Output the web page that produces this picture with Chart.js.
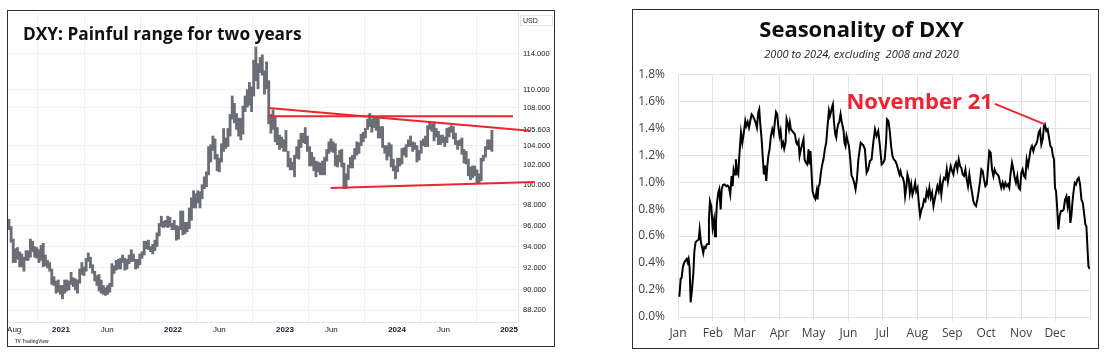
<!DOCTYPE html>
<html><head><meta charset="utf-8">
<script src="https://cdn.jsdelivr.net/npm/chart.js@4.4.1/dist/chart.umd.min.js"></script>
<style>
html,body{margin:0;padding:0;background:#fff;width:1106px;height:355px;overflow:hidden}
.box{position:absolute}
.panel{position:absolute;box-sizing:border-box;border:1.5px solid #2e2e2e;pointer-events:none}
canvas{display:block}
</style></head><body>
<div class="box" style="left:8px;top:11px;width:545px;height:334px"><canvas id="left"></canvas></div>
<div class="box" style="left:633px;top:10px;width:464px;height:337px"><canvas id="right"></canvas></div>
<div class="panel" style="left:7px;top:10px;width:548px;height:337px"></div>
<div class="panel" style="left:632px;top:9px;width:467px;height:340px"></div>
<script>
// ---------------- LEFT: DXY weekly ranges (low, high), weeks ending on Fridays ----------------
const week2020Start = '2020-07-17';
const dxyWeekly2020 = [[95.6,96.6],[94.4,95.9],[92.5,94.7],[92.5,93.8],[92.8,93.9],[92.1,93.5],[92.1,93.3],[91.7,93.0],[92.7,93.6],[92.7,93.6],[93.0,94.7],[93.5,94.5],[93.0,94.0],[92.9,93.9],[92.5,93.7],[92.7,94.1],[92.1,94.3],[92.2,93.2],[92.0,92.7],[91.7,92.5],[90.5,91.9],[90.4,91.2],[89.7,90.8],[89.8,90.9]];
const week2021Start = '2021-01-01';
const dxyWeekly2021 = [[89.6,90.4],[89.2,90.4],[89.7,90.9],[89.9,90.9],[90.0,90.8],
 [90.5,91.6],[90.3,91.1],[90.0,91.0],[89.7,90.9],
 [90.6,91.9],[91.4,92.5],[91.3,92.1],[91.7,92.9],
 [92.6,93.4],[92.0,93.0],[91.5,92.3],[90.8,91.7],[90.4,91.3],
 [89.9,91.4],[89.7,90.9],[89.6,90.4],[89.5,90.2],
 [89.6,90.4],[89.8,90.6],[90.3,92.4],[91.5,92.2],
 [91.8,92.7],[91.9,92.8],[91.9,92.9],[92.5,93.2],[91.8,92.9],
 [91.9,92.8],[92.4,93.2],[92.6,93.7],[92.6,93.3],
 [91.9,92.8],[92.0,92.8],[92.3,93.3],[92.9,93.5],
 [93.2,94.5],[93.8,94.5],[93.7,94.6],[93.5,94.0],[93.3,94.2],
 [93.6,94.6],[94.0,95.3],[95.0,96.2],[95.9,96.9],
 [95.8,96.4],[95.9,96.5],[95.8,96.9],[95.9,96.8],[95.6,96.2]];
const week2022Start = '2022-01-07';
const dxyWeekly2022 = [[95.6,96.5],[94.6,96.0],[94.7,95.9],[95.6,97.4],
 [95.1,97.4],[95.2,96.3],[95.4,96.3],[95.7,97.7],
 [96.5,98.7],[97.7,99.4],[97.7,99.1],[98.2,99.4],
 [97.7,99.3],[98.6,100.0],[99.6,100.8],[99.8,101.3],[101.0,103.9],
 [102.3,104.1],[103.5,105.0],[102.6,104.7],[101.4,103.1],
 [101.3,102.7],[102.3,104.2],[103.4,105.8],[103.7,104.8],
 [103.9,105.8],[105.0,107.3],[106.8,109.3],[106.4,108.5],[105.7,107.4],
 [105.0,106.9],[104.6,106.9],[105.2,108.2],[107.6,109.3],
 [108.1,110.0],[108.3,110.8],[107.6,110.3],[109.3,113.3],[111.0,114.8],
 [110.1,112.9],[111.9,113.6],[111.6,113.9],[109.5,112.1],
 [110.1,113.1],[106.3,111.0],[105.3,107.3],[105.7,107.8],
 [104.4,107.1],[104.1,105.9],[103.6,105.1],[103.8,104.9],[103.4,104.6]];
const week2023Start = '2023-01-06';
const dxyWeekly2023 = [[103.4,105.6],[101.8,103.4],[101.5,102.7],[101.5,102.3],
 [100.8,103.0],[102.7,103.9],[102.6,104.6],[103.8,105.3],
 [104.3,105.3],[104.2,105.9],[103.4,105.0],[101.9,103.9],[101.9,103.3],
 [101.4,102.8],[100.8,102.4],[101.3,102.3],[101.0,102.2],
 [101.0,102.4],[101.0,102.8],[102.4,103.6],[103.2,104.4],
 [103.4,104.7],[103.3,104.4],[101.9,104.2],[101.8,103.0],[102.3,103.5],
 [101.8,103.6],[99.6,102.2],[99.6,101.1],[100.5,102.0],
 [101.7,102.8],[101.7,103.0],[102.6,103.7],[103.0,104.4],
 [103.2,104.3],[104.0,105.2],[104.4,105.4],[104.8,105.8],[105.7,106.8],
 [106.0,107.4],[105.4,106.8],[105.9,106.9],[105.6,106.9],
 [104.8,107.1],[104.8,106.0],[103.8,106.0],[103.2,104.0],
 [102.5,104.0],[102.9,104.3],[101.8,104.1],[101.4,102.6],[100.6,101.9]];
const week2024Start = '2024-01-05';
const dxyWeekly2024 = [[101.3,102.7],[101.9,102.7],[102.1,103.7],[103.0,103.8],
 [102.8,104.1],[103.9,104.6],[103.9,105.0],[103.4,104.4],
 [103.6,104.3],[102.3,104.0],[102.5,103.5],[103.2,104.5],[104.0,104.7],
 [103.9,105.0],[103.9,106.1],[105.7,106.5],[105.5,106.3],
 [104.5,106.5],[104.9,105.8],[104.1,105.5],[104.1,105.1],[104.3,105.1],
 [103.9,104.9],[104.3,105.8],[104.9,105.9],[105.4,106.1],
 [104.7,106.0],[104.1,105.3],[103.6,104.5],[104.0,104.6],
 [103.1,104.8],[102.2,103.6],[102.1,103.4],[100.9,102.6],[100.5,101.8],
 [100.7,101.9],[100.9,101.9],[100.2,101.5],[100.2,101.1],
 [100.4,102.7],[102.4,103.0],[102.8,103.9],[103.6,104.6],
 [103.6,104.6],[103.4,105.6]];

// trend lines drawn on the chart: [date, price]
const upperTrend = [['2022-11-09',108.0],['2025-03-10',105.55]];
const flatTrend  = [['2022-11-06',107.1],['2025-01-14',107.1]];
const lowerTrend = [['2023-05-30',99.68],['2025-03-26',100.27]];

// axis ticks
const leftTickDates  = ['2020-08-01','2021-01-01','2021-06-01','2022-01-01','2022-06-01','2023-01-01','2023-06-01','2024-01-01','2024-06-01','2025-01-01'];
const leftTickLabels = ['Aug','2021','Jun','2022','Jun','2023','Jun','2024','Jun','2025'];
const leftPriceTicks = [88.2,90,92,94,96,98,100,102,104,105.603,108,110,114];
const lastPrice = 105.603;

// ---------------- RIGHT: seasonality (day of year, cumulative % change) ----------------
const seasonDay = [1.2,2.4,3.2,4.4,5.9,7.7,8.6,9.4,10.3,11.2,12.4,13.6,14.5,15.6,17.1,18.3,19.2,20.4,21.5,22.4,23.3,24.5,25.4,26.6,27.4,28.3,29.5,30.7,31.9,32.8,33.6,34.5,35.7,36.6,37.8,38.7,39.8,41.3,42.8,44,45.1,46.3,47.5,48.4,49.3,50.5,51.3,52.2,53.4,54.3,55.8,57,58.1,59.6,60.5,61.7,62.9,64,65.2,66.4,67.6,68.8,69.9,71.1,72,72.9,74.1,75.2,76.1,77,78.2,79.1,80,81.1,82.3,83.5,84.7,85.9,86.8,87.9,88.8,90,90.9,92.1,93.2,94.1,95.3,96.2,97.4,98.3,99.1,100,101.2,102.4,103.6,104.8,105.6,106.8,107.7,108.9,110.1,111.2,112.1,113.3,114.5,115.7,116.6,117.4,118.3,119.2,120.4,121.6,122.8,123.6,124.5,125.4,126.6,127.8,128.9,130.1,131.3,132.5,133.7,134.6,135.4,136.3,137.2,138.1,139.3,140.2,141,141.9,142.8,144,144.9,145.8,146.7,147.5,148.4,149.3,150.5,151.4,152.6,153.7,154.9,156.1,157.3,158.5,159.8,161.8,164.2,165.6,167.1,168.5,170,171.5,173,174.5,175.9,177.4,178.9,180.4,181.9,183.1,184.3,185.2,186.4,187.6,188.8,190,191.2,192.6,193.8,195,196.2,197.1,198,199.2,200.3,201.2,202.4,203.3,204.5,205.4,206.6,207.7,208.9,210.1,211,212.2,213.3,214.5,215.7,216.9,218,219.2,220.4,221.6,222.7,223.9,225.1,226.3,227.4,228.6,229.8,231,232.2,233.3,234.5,235.7,236.9,238.1,239.2,240.4,241.6,242.8,244,245.1,246.3,247.5,248.7,249.9,251,252.2,253.4,254.6,255.8,256.9,258.1,259.3,260.5,261.7,262.8,264,265.2,266.4,267.6,268.7,269.9,271.1,272.3,273.5,274.6,275.8,277,278.2,279.4,280.5,281.7,282.9,284.1,285.3,286.4,287.6,288.8,290,291.2,292.4,293.5,294.7,295.9,297.1,298.3,299.4,300.6,301.8,303,304.2,305.3,306.5,307.7,308.9,310.1,311.3,312.4,313.6,314.8,316,317.2,318.3,319.5,320.7,321.9,323.1,324.2,325,326.3,327.5,328.7,329.9,331,332.2,333.1,334,334.9,335.8,337,338.1,339.3,340.5,341.7,342.9,344.1,345.2,346.4,347.6,348.5,349.4,350.3,351.5,352.7,353.8,355,356.2,357.4,358.6,359.7,360.9,361.8,362.7,363.6,364.8];
const seasonPct = [0.15,0.285,0.29,0.376,0.41,0.43,0.405,0.43,0.364,0.109,0.203,0.327,0.488,0.555,0.567,0.574,0.649,0.55,0.512,0.475,0.52,0.512,0.537,0.542,0.723,0.859,0.822,0.661,0.723,0.599,0.698,0.847,0.921,0.946,0.797,0.946,0.978,0.983,0.97,0.975,0.963,0.909,1.045,0.97,1.094,1.057,1.169,1.082,1.057,1.193,1.367,1.292,1.354,1.453,1.416,1.446,1.404,1.453,1.503,1.49,1.466,1.441,1.404,1.515,1.54,1.429,1.317,1.169,1.057,1.124,1.008,1.119,1.193,1.243,1.342,1.391,1.354,1.453,1.52,1.503,1.416,1.342,1.379,1.268,1.292,1.248,1.292,1.466,1.429,1.391,1.441,1.391,1.379,1.367,1.354,1.292,1.28,1.305,1.193,1.243,1.28,1.317,1.169,1.144,1.131,1.243,1.131,1.23,1.07,0.933,0.896,0.876,0.933,0.871,0.97,0.983,1.07,1.131,1.169,1.243,1.292,1.416,1.528,1.49,1.515,1.552,1.577,1.453,1.354,1.33,1.391,1.429,1.441,1.503,1.453,1.416,1.379,1.292,1.268,1.342,1.30,1.27,1.17,1.05,1.03,0.995,0.946,1.02,1.168,1.292,1.272,1.243,1.069,1.094,1.156,1.168,1.292,1.391,1.342,1.379,1.267,1.131,1.144,1.168,1.292,1.465,1.453,1.379,1.267,1.193,1.168,1.156,1.131,1.094,1.057,1.082,1.045,1.032,0.995,0.896,0.97,1.057,1.02,0.921,0.983,0.908,0.946,0.995,0.933,0.958,0.847,0.752,0.797,0.822,0.871,0.859,0.933,0.896,0.958,0.884,0.921,0.822,0.871,0.921,0.97,0.933,1.007,0.908,0.995,1.032,1.02,1.094,1.007,1.069,1.119,1.082,1.057,1.119,1.144,1.094,1.168,1.119,1.106,1.057,1.045,1.094,1.02,0.97,1.057,0.983,0.921,0.859,0.834,0.822,0.871,0.933,1.007,1.094,1.082,1.02,0.97,0.983,1.094,1.23,1.218,1.094,1.045,1.094,1.069,1.057,1.045,0.995,0.958,0.995,0.958,0.995,0.97,0.983,0.958,1.069,1.144,1.094,1.032,0.995,1.045,0.958,0.946,1.069,1.094,1.045,1.032,1.168,1.119,1.181,1.243,1.267,1.23,1.267,1.28,1.304,1.366,1.386,1.28,1.317,1.416,1.428,1.379,1.391,1.329,1.267,1.255,1.193,1.168,0.958,0.933,0.822,0.649,0.748,0.785,0.785,0.797,0.871,0.896,0.822,0.896,0.698,0.748,0.847,0.921,0.995,0.983,1.02,1.032,0.983,0.871,0.847,0.772,0.686,0.673,0.525,0.376,0.356];
const monthStartDays = [0,31,59,90,120,151,181,212,243,273,304,334,365];
const monthLabels = ['Jan','Feb','Mar','Apr','May','Jun','Jul','Aug','Sep','Oct','Nov','Dec',''];
const seasonYTicks = [0,0.2,0.4,0.6,0.8,1.0,1.2,1.4,1.6,1.8];
const novAnnotation = {text:'November 21', day:325, value:1.428};

// ---------------- helpers ----------------
const DAY = 86400000;
function decYearMs(ms){ const d=new Date(ms); const y=d.getUTCFullYear(); const a=Date.UTC(y,0,1), b=Date.UTC(y+1,0,1); return y+(ms-a)/(b-a); }
function decYear(s){ return decYearMs(Date.parse(s+'T00:00:00Z')); }

const weeklyBlocks = [[week2020Start,dxyWeekly2020],[week2021Start,dxyWeekly2021],[week2022Start,dxyWeekly2022],[week2023Start,dxyWeekly2023],[week2024Start,dxyWeekly2024]];
const candleData = [];
weeklyBlocks.forEach(([start, ranges]) => {
  const s = Date.parse(start+'T00:00:00Z');
  ranges.forEach((r,i) => candleData.push({x: decYearMs(s + (7*i-2)*DAY), y: [r[0], r[1]]}));
});
const toPts = arr => arr.map(([d,p]) => ({x: decYear(d), y: p}));
const leftTickPos = leftTickDates.map(decYear);

Chart.defaults.font.family = "'Open Sans', 'Noto Sans', sans-serif";
const RED = '#ee2530';
const TVTEXT = '#131722';

const leftOverlay = {
  id:'leftOverlay',
  afterDraw(chart){
    const c = chart.ctx, a = chart.chartArea;
    c.save();
    c.fillStyle = '#111';
    c.font = "bold 17.3px 'Open Sans'";
    c.textBaseline = 'alphabetic';
    c.textAlign = 'left';
    c.fillText('DXY: Painful range for two years', a.left + 15, a.top + 28);
    // currency tag on the price scale
    c.strokeStyle = '#e0e3eb'; c.lineWidth = 1;
    c.strokeRect(a.right + 2.5, a.top + 3.5, 32, 10);
    c.fillStyle = TVTEXT; c.font = "7px 'Liberation Sans'"; c.textBaseline = 'middle';
    c.fillText('USD', a.right + 5, a.top + 9);
    // logo text
    c.fillStyle = '#555'; c.font = "bold 4.5px 'Liberation Sans'"; c.textBaseline='middle';
    c.fillText('TV TradingView', a.left + 7, chart.height - 3);
    c.restore();
  }
};

new Chart(document.getElementById('left'), {
  type: 'bar',
  data: { datasets: [
    {type:'line', data: toPts(upperTrend), borderColor: RED, borderWidth: 2, pointRadius: 0, clip: false, order: 0},
    {type:'line', data: toPts(flatTrend), borderColor: RED, borderWidth: 2, pointRadius: 0, clip: false, order: 0},
    {type:'line', data: toPts(lowerTrend), borderColor: RED, borderWidth: 2, pointRadius: 0, clip: false, order: 0},
    {type:'bar', data: candleData, backgroundColor: '#6b6e76', barThickness: 2.2, borderSkipped: false, order: 1}
  ]},
  options: {
    responsive: true, maintainAspectRatio: false, animation: false,
    layout: {padding: {top: 1, left: 0, right: 0, bottom: 0}},
    plugins: {legend: {display: false}, tooltip: {enabled: false}},
    scales: {
      x: {type: 'linear', min: 2020.527, max: 2025.080, offset: false,
        grid: {color: '#f0f1f4', drawTicks: false}, border: {color: '#e0e3eb'},
        ticks: {autoSkip: false, maxRotation: 0, padding: 3, color: TVTEXT,
          font: c => ({family: "'Liberation Sans'", size: 8, weight: /^\d{4}$/.test(leftTickLabels[c.index]) ? 'bold' : 'normal'}),
          callback: (v, i) => leftTickLabels[i]},
        afterBuildTicks: s => { s.ticks = leftTickPos.map(v => ({value: v})); },
        afterFit: s => { s.height = 23; s.paddingLeft = 0; s.paddingRight = 0; }
      },
      y: {type: 'logarithmic', position: 'right', min: 87.15, max: 118.9,
        grid: {color: c => (c.tick && c.tick.value === lastPrice) ? 'rgba(0,0,0,0)' : '#f0f1f4', drawTicks: false},
        border: {color: '#e0e3eb'},
        ticks: {autoSkip: false, padding: 5, color: TVTEXT, font: {family: "'Liberation Sans'", size: 7.5},
          callback: v => Number(v).toFixed(3)},
        afterBuildTicks: s => { s.ticks = leftPriceTicks.map(v => ({value: v})); },
        afterFit: s => { s.width = 35; s.paddingTop = 0; s.paddingBottom = 0; }
      }
    }
  },
  plugins: [leftOverlay]
});

const annotationPlugin = {
  id: 'novAnnotation',
  afterDatasetsDraw(chart){
    const {x, y} = chart.scales, c = chart.ctx;
    const px = x.getPixelForValue(novAnnotation.day), py = y.getPixelForValue(novAnnotation.value);
    c.save();
    c.strokeStyle = RED; c.lineWidth = 2;
    c.beginPath(); c.moveTo(px - 50, py - 20.5); c.lineTo(px, py); c.stroke();
    c.fillStyle = RED; c.font = "bold 22px 'Open Sans'"; c.textAlign = 'right'; c.textBaseline = 'alphabetic';
    c.fillText(novAnnotation.text, px - 52, py - 15);
    c.restore();
  }
};

new Chart(document.getElementById('right'), {
  type: 'line',
  data: { datasets: [{data: seasonDay.map((d,i) => ({x: d, y: seasonPct[i]})), borderColor: '#000', borderWidth: 2, pointRadius: 0, tension: 0}]},
  options: {
    responsive: true, maintainAspectRatio: false, animation: false,
    layout: {padding: {top: 0, left: 0, right: 7, bottom: 0}},
    plugins: {
      legend: {display: false}, tooltip: {enabled: false},
      title: {display: true, text: 'Seasonality of DXY', color: '#0d0d0d', font: {size: 22, weight: 'bold'}, padding: {top: 8, bottom: 0}},
      subtitle: {display: true, text: '2000 to 2024, excluding  2008 and 2020', color: '#222', font: {size: 11, style: 'italic'}, padding: {top: 4, bottom: 12.6}}
    },
    scales: {
      x: {type: 'linear', min: 0, max: 365,
        grid: {color: '#e4e4e4', tickLength: 4}, border: {display: false},
        ticks: {autoSkip: false, maxRotation: 0, padding: 5, color: '#404040', font: {size: 12}, callback: (v, i) => monthLabels[i]},
        afterBuildTicks: s => { s.ticks = monthStartDays.map(v => ({value: v})); },
        afterFit: s => { s.height = 30; }
      },
      y: {min: 0, max: 1.8,
        grid: {color: '#e4e4e4', drawTicks: false}, border: {display: false},
        ticks: {padding: 13, color: '#404040', font: {size: 12}, callback: v => Number(v).toFixed(1) + '%'},
        afterBuildTicks: s => { s.ticks = seasonYTicks.map(v => ({value: v})); },
        afterFit: s => { s.width = 45; }
      }
    }
  },
  plugins: [annotationPlugin]
});
</script>
</body></html>
